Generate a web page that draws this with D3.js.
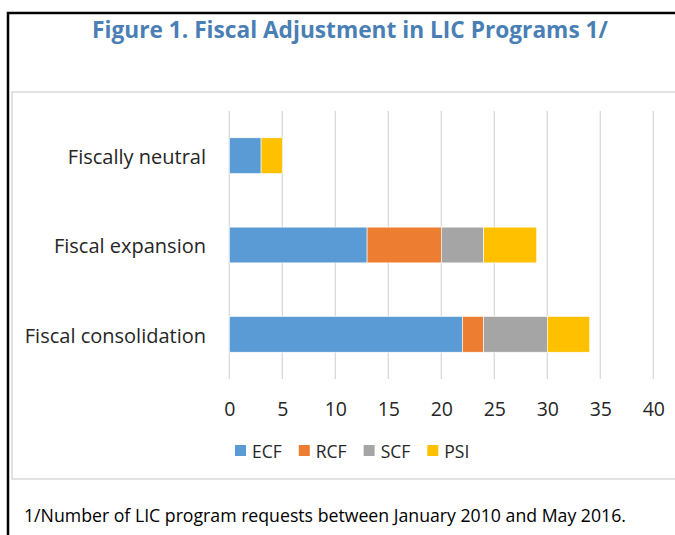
<!DOCTYPE html>
<html>
<head>
<meta charset="utf-8">
<script src="https://cdn.jsdelivr.net/npm/d3@7"></script>
<style>
  html, body { margin: 0; padding: 0; background: #fff; }
  svg { display: block; font-family: "Open Sans", "Noto Sans", sans-serif; }
</style>
</head>
<body>
<svg id="chart" width="675" height="535"></svg>
<script>
const title = "Figure 1. Fiscal Adjustment in LIC Programs 1/";
const footnote = "1/Number of LIC program requests between January 2010 and May 2016.";
const categories = ["Fiscally neutral", "Fiscal expansion", "Fiscal consolidation"];
const seriesNames = ["ECF", "RCF", "SCF", "PSI"];
const ECF = [3, 13, 22];
const RCF = [0, 7, 2];
const SCF = [0, 4, 6];
const PSI = [2, 5, 4];
const xTicks = [0, 5, 10, 15, 20, 25, 30, 35, 40];
const colors = ["#5B9BD5", "#ED7D31", "#A5A5A5", "#FFC000"];

const svg = d3.select("#chart");
const seriesValues = [ECF, RCF, SCF, PSI];
const rows = categories.map((c, i) => {
  const o = { category: c };
  seriesNames.forEach((s, j) => o[s] = seriesValues[j][i]);
  return o;
});

// frames
svg.append("rect").attr("x", 8).attr("y", 13).attr("width", 720).attr("height", 600)
  .attr("fill", "none").attr("stroke", "#000").attr("stroke-width", 2.5);
svg.append("rect").attr("x", 12).attr("y", 92).attr("width", 720).attr("height", 387)
  .attr("fill", "none").attr("stroke", "#d9d9d9").attr("stroke-width", 1.5);

svg.append("text").attr("x", 350).attr("y", 38).attr("text-anchor", "middle")
  .attr("font-size", 22.7).attr("font-weight", "bold").attr("fill", "#4A7FB5")
  .text(title);

const x = d3.scaleLinear().domain([0, 40]).range([229.3, 653.3]);
const y = d3.scaleBand().domain(categories).range([111, 379]).paddingInner(0.6).paddingOuter(0.3);

// gridlines
svg.append("g").selectAll("line").data(xTicks).join("line")
  .attr("x1", d => x(d)).attr("x2", d => x(d)).attr("y1", 111).attr("y2", 379)
  .attr("stroke", "#d9d9d9").attr("stroke-width", 1.3);

const stack = d3.stack().keys(seriesNames)(rows);
svg.append("g").selectAll("g").data(stack).join("g")
  .attr("fill", (d, i) => colors[i])
  .selectAll("rect").data(d => d.filter(s => s[1] - s[0] > 0)).join("rect")
  .attr("x", d => x(d[0])).attr("width", d => x(d[1]) - x(d[0]))
  .attr("y", d => y(d.data.category)).attr("height", y.bandwidth())
  .attr("stroke", "#fff").attr("stroke-width", 0.6);

// x axis labels
const xAxis = d3.axisBottom(x).tickValues(xTicks).tickSize(0).tickPadding(0);
const gx = svg.append("g").attr("transform", "translate(0,402)").call(xAxis);
gx.select(".domain").remove();
gx.selectAll("text").attr("font-size", 19.5).attr("fill", "#262626")
  .attr("font-family", "Open Sans, sans-serif");

// y axis labels
const yAxis = d3.axisLeft(y).tickSize(0).tickPadding(0);
const gy = svg.append("g").attr("transform", "translate(206,2)").call(yAxis);
gy.select(".domain").remove();
gy.selectAll("text").attr("font-size", 20).attr("fill", "#262626")
  .attr("font-family", "Open Sans, sans-serif");

// legend
const lg = svg.append("g");
let lx = 235;
seriesNames.forEach((s, i) => {
  lg.append("rect").attr("x", lx).attr("y", 445).attr("width", 11).attr("height", 11).attr("fill", colors[i]);
  const t = lg.append("text").attr("x", lx + 17).attr("y", 458).attr("font-size", 17.5)
    .attr("fill", "#262626").text(s);
  lx += 17 + t.node().getComputedTextLength() + 17;
});

svg.append("text").attr("x", 24).attr("y", 522).attr("font-size", 17.7).attr("fill", "#000")
  .text(footnote);
</script>
</body>
</html>
